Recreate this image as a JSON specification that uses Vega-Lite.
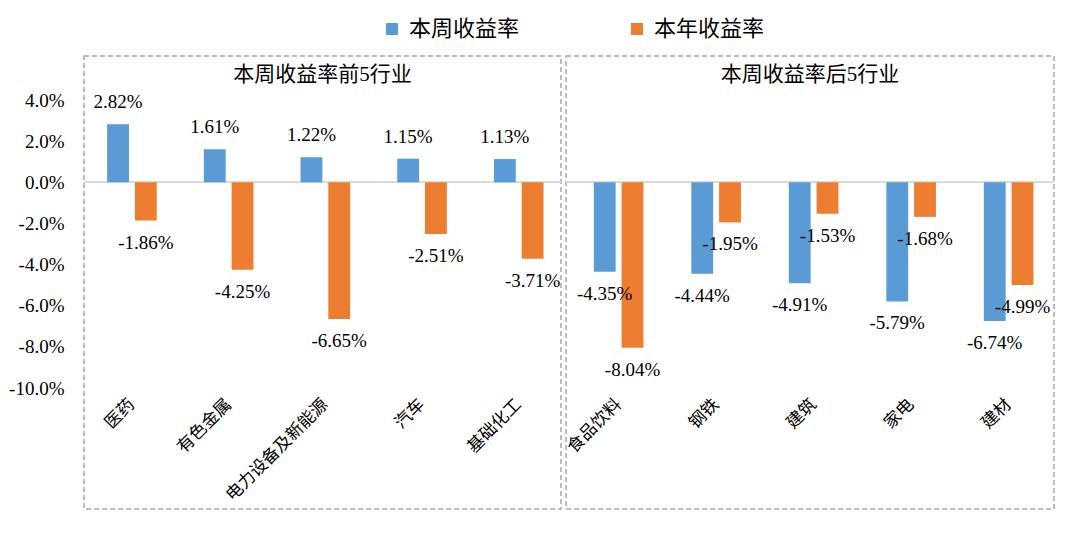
{
  "$schema": "https://vega.github.io/schema/vega-lite/v6.json",
  "autosize": {"type": "pad"},
  "padding": {"left": 7, "top": 18, "right": 25, "bottom": 35},
  "background": "white",
  "spacing": 5,
  "bounds": "flush",
  "data": {
    "values": [
      {"industry": "医药", "group": "前5", "series": "本周收益率", "value": 0.0282},
      {"industry": "医药", "group": "前5", "series": "本年收益率", "value": -0.0186},
      {"industry": "有色金属", "group": "前5", "series": "本周收益率", "value": 0.0161},
      {"industry": "有色金属", "group": "前5", "series": "本年收益率", "value": -0.0425},
      {"industry": "电力设备及新能源", "group": "前5", "series": "本周收益率", "value": 0.0122},
      {"industry": "电力设备及新能源", "group": "前5", "series": "本年收益率", "value": -0.0665},
      {"industry": "汽车", "group": "前5", "series": "本周收益率", "value": 0.0115},
      {"industry": "汽车", "group": "前5", "series": "本年收益率", "value": -0.0251},
      {"industry": "基础化工", "group": "前5", "series": "本周收益率", "value": 0.0113},
      {"industry": "基础化工", "group": "前5", "series": "本年收益率", "value": -0.0371},
      {"industry": "食品饮料", "group": "后5", "series": "本周收益率", "value": -0.0435},
      {"industry": "食品饮料", "group": "后5", "series": "本年收益率", "value": -0.0804},
      {"industry": "钢铁", "group": "后5", "series": "本周收益率", "value": -0.0444},
      {"industry": "钢铁", "group": "后5", "series": "本年收益率", "value": -0.0195},
      {"industry": "建筑", "group": "后5", "series": "本周收益率", "value": -0.0491},
      {"industry": "建筑", "group": "后5", "series": "本年收益率", "value": -0.0153},
      {"industry": "家电", "group": "后5", "series": "本周收益率", "value": -0.0579},
      {"industry": "家电", "group": "后5", "series": "本年收益率", "value": -0.0168},
      {"industry": "建材", "group": "后5", "series": "本周收益率", "value": -0.0674},
      {"industry": "建材", "group": "后5", "series": "本年收益率", "value": -0.0499}
    ]
  },
  "config": {
    "view": {"stroke": "#a6a6a6", "strokeDash": [5, 3], "strokeWidth": 1.5},
    "font": "Liberation Serif, Noto Sans CJK SC",
    "locale": {"number": {"decimal": ".", "thousands": ",", "grouping": [3], "currency": ["$", ""], "minus": "-"}},
    "title": {"fontSize": 21, "fontWeight": "normal", "color": "#000000", "font": "Liberation Serif, Noto Sans CJK SC"},
    "text": {"font": "Liberation Serif, Noto Sans CJK SC", "color": "#000000"}
  },
  "hconcat": [
    {
      "width": 477,
      "height": 453,
      "title": {"text": "本周收益率前5行业", "offset": -29},
      "transform": [{"filter": "datum.group === '前5'"}],
      "layer": [
        {
          "mark": {"type": "rule", "color": "#d9d9d9", "strokeWidth": 1.5},
          "encoding": {
            "y": {"datum": 0, "type": "quantitative", "scale": {"domain": [-0.1588, 0.0614], "nice": false, "zero": false}}
          }
        },
        {
          "mark": {"type": "bar"},
          "encoding": {
            "x": {"field": "industry", "type": "nominal", "sort": null, "scale": {"paddingInner": 0.487, "paddingOuter": 0.21, "align": 0.57}, "axis": null},
            "xOffset": {"field": "series", "type": "nominal", "scale": {"domain": ["本周收益率", "本年收益率"], "paddingInner": 0.214, "paddingOuter": 0}},
            "y": {
              "field": "value", "type": "quantitative",
              "scale": {"domain": [-0.1588, 0.0614], "nice": false, "zero": false},
              "axis": {"title": null, "values": [-0.1, -0.08, -0.06, -0.04, -0.02, 0, 0.02, 0.04], "format": ".1%", "grid": false, "domain": false, "ticks": false, "labelPadding": 20, "labelFontSize": 19, "labelColor": "#000000", "labelFont": "Liberation Serif"}
            },
            "color": {
              "field": "series", "type": "nominal",
              "scale": {"domain": ["本周收益率", "本年收益率"], "range": ["#5B9BD5", "#ED7D31"]},
              "legend": {"orient": "none", "legendX": 297, "legendY": -38, "direction": "horizontal", "title": null, "symbolType": "square", "symbolSize": 144, "symbolStrokeWidth": 0, "labelFontSize": 22, "labelOffset": 6, "columnPadding": 106, "labelColor": "#000000", "labelFont": "Liberation Serif, Noto Sans CJK SC"}
            }
          }
        },
        {
          "transform": [{"filter": "datum.value > 0"}],
          "mark": {"type": "text", "dy": -22, "fontSize": 19, "baseline": "middle"},
          "encoding": {
            "x": {"field": "industry", "type": "nominal", "sort": null},
            "xOffset": {"field": "series", "type": "nominal"},
            "y": {"field": "value", "type": "quantitative"},
            "text": {"field": "value", "type": "quantitative", "format": ".2%"}
          }
        },
        {
          "transform": [{"filter": "datum.value < 0"}],
          "mark": {"type": "text", "dy": 22, "fontSize": 19, "baseline": "middle"},
          "encoding": {
            "x": {"field": "industry", "type": "nominal", "sort": null},
            "xOffset": {"field": "series", "type": "nominal"},
            "y": {"field": "value", "type": "quantitative"},
            "text": {"field": "value", "type": "quantitative", "format": ".2%"}
          }
        },
        {
          "transform": [{"filter": "datum.series === '本周收益率'"}],
          "mark": {"type": "text", "angle": -45, "align": "right", "baseline": "middle", "fontSize": 17},
          "encoding": {
            "x": {"field": "industry", "type": "nominal", "sort": null},
            "y": {"datum": -0.1068, "type": "quantitative"},
            "text": {"field": "industry", "type": "nominal"}
          }
        }
      ]
    },
    {
      "width": 488,
      "height": 453,
      "title": {"text": "本周收益率后5行业", "offset": -29},
      "transform": [{"filter": "datum.group === '后5'"}],
      "layer": [
        {
          "mark": {"type": "rule", "color": "#d9d9d9", "strokeWidth": 1.5},
          "encoding": {
            "y": {"datum": 0, "type": "quantitative", "scale": {"domain": [-0.1588, 0.0614], "nice": false, "zero": false}, "axis": null}
          }
        },
        {
          "mark": {"type": "bar"},
          "encoding": {
            "x": {"field": "industry", "type": "nominal", "sort": null, "scale": {"paddingInner": 0.487, "paddingOuter": 0.246, "align": 0.58}, "axis": null},
            "xOffset": {"field": "series", "type": "nominal", "scale": {"domain": ["本周收益率", "本年收益率"], "paddingInner": 0.214, "paddingOuter": 0}},
            "y": {"field": "value", "type": "quantitative", "scale": {"domain": [-0.1588, 0.0614], "nice": false, "zero": false}, "axis": null},
            "color": {
              "field": "series", "type": "nominal",
              "scale": {"domain": ["本周收益率", "本年收益率"], "range": ["#5B9BD5", "#ED7D31"]},
              "legend": {"orient": "none", "legendX": 297, "legendY": -38, "direction": "horizontal", "title": null, "symbolType": "square", "symbolSize": 144, "symbolStrokeWidth": 0, "labelFontSize": 22, "labelOffset": 6, "columnPadding": 106, "labelColor": "#000000", "labelFont": "Liberation Serif, Noto Sans CJK SC"}
            }
          }
        },
        {
          "transform": [{"filter": "datum.value > 0"}],
          "mark": {"type": "text", "dy": -22, "fontSize": 19, "baseline": "middle"},
          "encoding": {
            "x": {"field": "industry", "type": "nominal", "sort": null},
            "xOffset": {"field": "series", "type": "nominal"},
            "y": {"field": "value", "type": "quantitative"},
            "text": {"field": "value", "type": "quantitative", "format": ".2%"}
          }
        },
        {
          "transform": [{"filter": "datum.value < 0"}],
          "mark": {"type": "text", "dy": 22, "fontSize": 19, "baseline": "middle"},
          "encoding": {
            "x": {"field": "industry", "type": "nominal", "sort": null},
            "xOffset": {"field": "series", "type": "nominal"},
            "y": {"field": "value", "type": "quantitative"},
            "text": {"field": "value", "type": "quantitative", "format": ".2%"}
          }
        },
        {
          "transform": [{"filter": "datum.series === '本周收益率'"}],
          "mark": {"type": "text", "angle": -45, "align": "right", "baseline": "middle", "fontSize": 17},
          "encoding": {
            "x": {"field": "industry", "type": "nominal", "sort": null},
            "y": {"datum": -0.1068, "type": "quantitative"},
            "text": {"field": "industry", "type": "nominal"}
          }
        }
      ]
    }
  ]
}
